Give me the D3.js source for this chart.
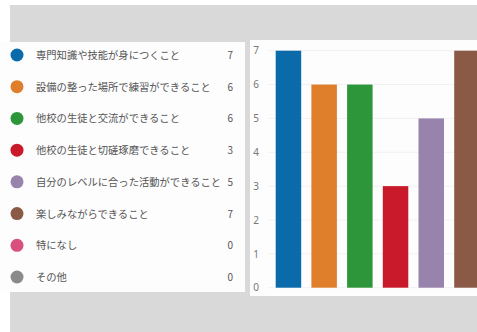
<!DOCTYPE html>
<html>
<head>
<meta charset="utf-8">
<script src="https://cdn.jsdelivr.net/npm/d3@7"></script>
<style>
  body { margin: 0; background: #fff; }
  svg { display: block; }
</style>
</head>
<body>
<div id="chart"></div>
<script>
// Survey answers (Japanese categories) and their counts
const categories = [
  "専門知識や技能が身につくこと",
  "設備の整った場所で練習ができること",
  "他校の生徒と交流ができること",
  "他校の生徒と切磋琢磨できること",
  "自分のレベルに合った活動ができること",
  "楽しみながらできること",
  "特になし",
  "その他"
];
const counts = [7, 6, 6, 3, 5, 7, 0, 0];
const colors = ["#0b6aa9", "#e07f2b", "#2e963a", "#c91a2c", "#9883ad", "#8a5a47", "#d9507f", "#8a8a8a"];
const yTicks = [0, 1, 2, 3, 4, 5, 6, 7];

const W = 477, H = 332;
const data = categories.map((c, i) => ({name: c, value: counts[i], color: colors[i]}));

const svg = d3.select("#chart").append("svg")
  .attr("width", W)
  .attr("height", H);

// gray backdrop with white margin on left and top
svg.append("rect").attr("x", 10).attr("y", 5).attr("width", W - 10).attr("height", H - 5).attr("fill", "#d9d9d9");

// legend panel
svg.append("rect").attr("x", 0).attr("y", 42).attr("width", 245).attr("height", 250).attr("fill", "#fdfdfd");

// chart panel
svg.append("rect").attr("x", 250).attr("y", 40).attr("width", W - 250).attr("height", 256).attr("fill", "#fdfdfd");

// legend rows
const legY = d3.scalePoint().domain(categories).range([55, 277]);

const leg = svg.selectAll("g.leg")
  .data(data)
  .enter().append("g")
    .attr("class", "leg")
    .attr("transform", d => `translate(0,${legY(d.name)})`);

leg.append("circle")
  .attr("cx", 17)
  .attr("r", 6.5)
  .attr("fill", d => d.color);

leg.append("text")
  .attr("x", 36)
  .attr("y", 4)
  .attr("font-family", "Noto Sans CJK JP")
  .attr("font-size", "10.3px")
  .attr("fill", "#555")
  .text(d => d.name);

leg.append("text")
  .attr("x", 233)
  .attr("y", 4)
  .attr("text-anchor", "end")
  .attr("font-family", "Noto Sans CJK JP")
  .attr("font-size", "10px")
  .attr("fill", "#555")
  .text(d => d.value);

// bar chart scales
const step = 35.7;
const x = d3.scaleBand()
  .domain(categories)
  .range([275.7, 275.7 + step * (categories.length - 0.286)])
  .paddingInner(0.286)
  .paddingOuter(0);

const y = d3.scaleLinear()
  .domain([0, 7])
  .range([287.7, 50.7]);

// faint gridlines
svg.append("g")
  .selectAll("line")
  .data(yTicks)
  .enter().append("line")
    .attr("x1", 268)
    .attr("x2", W)
    .attr("y1", d => y(d))
    .attr("y2", d => y(d))
    .attr("stroke", "#f1f1f1")
    .attr("stroke-width", 1);

// y axis labels
const yAxis = svg.append("g")
  .attr("transform", "translate(262,0)")
  .call(d3.axisLeft(y).tickValues(yTicks).tickSize(0).tickFormat(d3.format("d")));
yAxis.select(".domain").remove();
yAxis.selectAll("text")
  .attr("font-family", "Noto Sans")
  .attr("font-size", "10px")
  .attr("fill", "#777");

// bars
svg.selectAll("rect.bar")
  .data(data)
  .enter().append("rect")
    .attr("class", "bar")
    .attr("x", d => x(d.name))
    .attr("y", d => y(d.value))
    .attr("width", x.bandwidth())
    .attr("height", d => y(0) - y(d.value))
    .attr("fill", d => d.color);
</script>
</body>
</html>
